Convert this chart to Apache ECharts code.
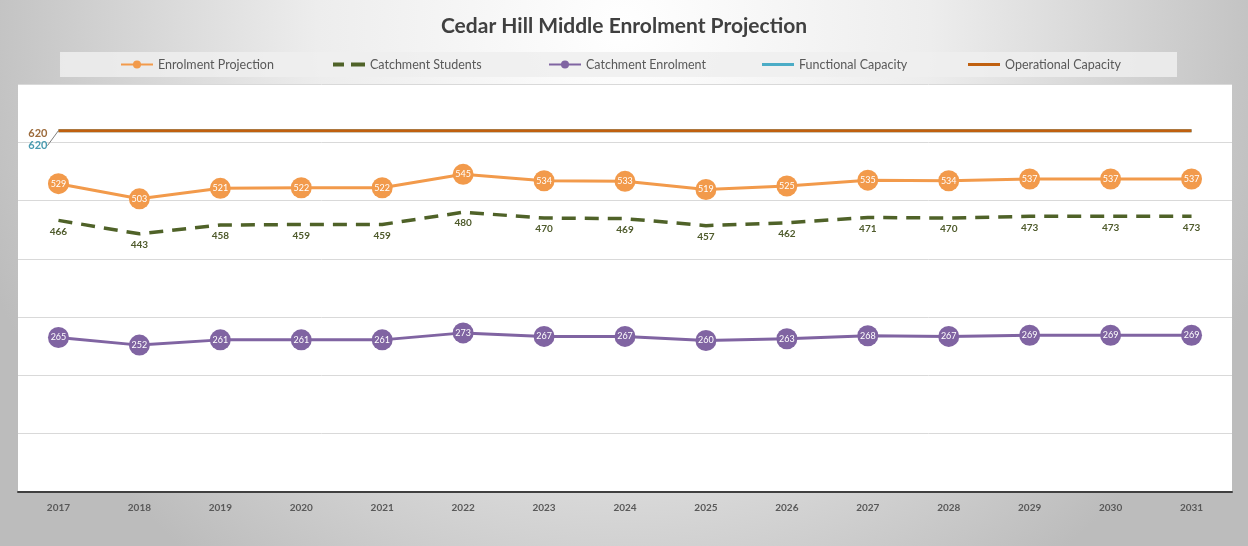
<!DOCTYPE html>
<html>
<head>
<meta charset="utf-8">
<script src="https://cdn.jsdelivr.net/npm/echarts@6/dist/echarts.min.js"></script>
<style>html,body{margin:0;padding:0;}#c{width:1248px;height:546px;}</style>
</head>
<body>
<div id="c"></div>
<script>
var years = ['2017','2018','2019','2020','2021','2022','2023','2024','2025','2026','2027','2028','2029','2030','2031'];
var enrolmentProjection = [529, 503, 521, 522, 522, 545, 534, 533, 519, 525, 535, 534, 537, 537, 537];
var catchmentStudents = [466, 443, 458, 459, 459, 480, 470, 469, 457, 462, 471, 470, 473, 473, 473];
var catchmentEnrolment = [265, 252, 261, 261, 261, 273, 267, 267, 260, 263, 268, 267, 269, 269, 269];
var functionalCapacity = [620, 620, 620, 620, 620, 620, 620, 620, 620, 620, 620, 620, 620, 620, 620];
var operationalCapacity = [620, 620, 620, 620, 620, 620, 620, 620, 620, 620, 620, 620, 620, 620, 620];

var FONT = 'Lato, "Open Sans", sans-serif';
var chart = echarts.init(document.getElementById('c'));

function firstOnly(arr, labelOpt) {
  return arr.map(function (v, i) {
    return i === 0 ? { value: v, label: labelOpt } : v;
  });
}

function legendAt(left, name, extra) {
  return Object.assign({
    left: left, top: 58, padding: 0, itemWidth: 32, itemHeight: 10,
    textStyle: { color: '#595959', fontSize: 12.5, fontFamily: FONT },
    selectedMode: false,
    data: [name]
  }, extra || {});
}

chart.setOption({
  backgroundColor: {
    type: 'radial', x: 0.5, y: 0.05, r: 1.25,
    colorStops: [
      { offset: 0, color: '#ffffff' },
      { offset: 0.45, color: '#ededed' },
      { offset: 1, color: '#bcbcbc' }
    ]
  },
  textStyle: { fontFamily: FONT },
  title: {
    text: 'Cedar Hill Middle Enrolment Projection',
    left: 'center', top: 11,
    textStyle: { color: '#404040', fontSize: 21, fontWeight: 'bold', fontFamily: FONT }
  },
  graphic: [{
    type: 'rect', left: 60, top: 52, z: -1,
    shape: { width: 1117, height: 25 },
    style: { fill: 'rgba(238,238,238,0.85)' }
  }],
  legend: [
    legendAt(120, 'Enrolment Projection'),
    legendAt(333, 'Catchment Students', {
      data: [{ name: 'Catchment Students', icon: 'path://M0,0H11V4H0Z M18,0H32V4H18Z' }],
      itemHeight: 4
    }),
    legendAt(548, 'Catchment Enrolment'),
    legendAt(762, 'Functional Capacity', { icon: 'rect', itemHeight: 3 }),
    legendAt(968, 'Operational Capacity', { icon: 'rect', itemHeight: 3 })
  ],
  grid: {
    left: 18, right: 16, top: 84, bottom: 54,
    show: true, backgroundColor: '#ffffff', borderWidth: 0,
    containLabel: false
  },
  xAxis: {
    type: 'category', data: years, boundaryGap: true,
    axisLine: { lineStyle: { color: '#404040', width: 2 } },
    axisTick: { show: false },
    axisLabel: { color: '#595959', fontSize: 10, fontWeight: 'bold', margin: 11, fontFamily: FONT }
  },
  yAxis: {
    type: 'value', min: 0, max: 700, interval: 100,
    axisLabel: { show: false },
    axisLine: { show: false }, axisTick: { show: false },
    splitLine: { lineStyle: { color: '#d9d9d9', width: 1 } }
  },
  series: [
    {
      name: 'Functional Capacity', type: 'line', z: 1,
      data: firstOnly(functionalCapacity, {
        show: true, position: 'left', distance: 6,
        color: '#4a9bb0', fontSize: 11, fontWeight: 'bold'
      }),
      symbol: 'circle', symbolSize: 0.01, showSymbol: true,
      lineStyle: { color: '#4BACC6', width: 3 },
      itemStyle: { color: '#4BACC6' },
      labelLayout: function (p) { return p.dataIndex === 0 ? { dy: 15, dx: -5 } : {}; },
      labelLine: { show: true, lineStyle: { color: '#7f7f7f', width: 1 } },
      silent: true
    },
    {
      name: 'Operational Capacity', type: 'line', z: 2,
      data: firstOnly(operationalCapacity, {
        show: true, position: 'left', distance: 11,
        color: '#9c6a3a', fontSize: 11, fontWeight: 'bold', offset: [0, 3]
      }),
      symbol: 'circle', symbolSize: 0.01, showSymbol: true,
      lineStyle: { color: '#C0600F', width: 3 },
      itemStyle: { color: '#C0600F' },
      silent: true
    },
    {
      name: 'Enrolment Projection', type: 'line', z: 5,
      data: enrolmentProjection,
      symbol: 'circle', symbolSize: 21,
      lineStyle: { color: '#F29A4B', width: 3 },
      itemStyle: { color: '#F29A4B' },
      label: { show: true, position: 'inside', color: '#ffffff', fontSize: 9 }
    },
    {
      name: 'Catchment Students', type: 'line', z: 4,
      data: catchmentStudents,
      symbol: 'circle', symbolSize: 0.01, showSymbol: true,
      lineStyle: { color: '#4F6228', width: 3.5, type: [14, 9] },
      itemStyle: { color: '#4F6228' },
      label: { show: true, position: 'bottom', distance: 6, color: '#4F5B2C', fontSize: 10, fontWeight: 'bold' }
    },
    {
      name: 'Catchment Enrolment', type: 'line', z: 5,
      data: catchmentEnrolment,
      symbol: 'circle', symbolSize: 21,
      lineStyle: { color: '#8064A2', width: 3 },
      itemStyle: { color: '#8064A2' },
      label: { show: true, position: 'inside', color: '#ffffff', fontSize: 9 }
    }
  ]
});
</script>
</body>
</html>
